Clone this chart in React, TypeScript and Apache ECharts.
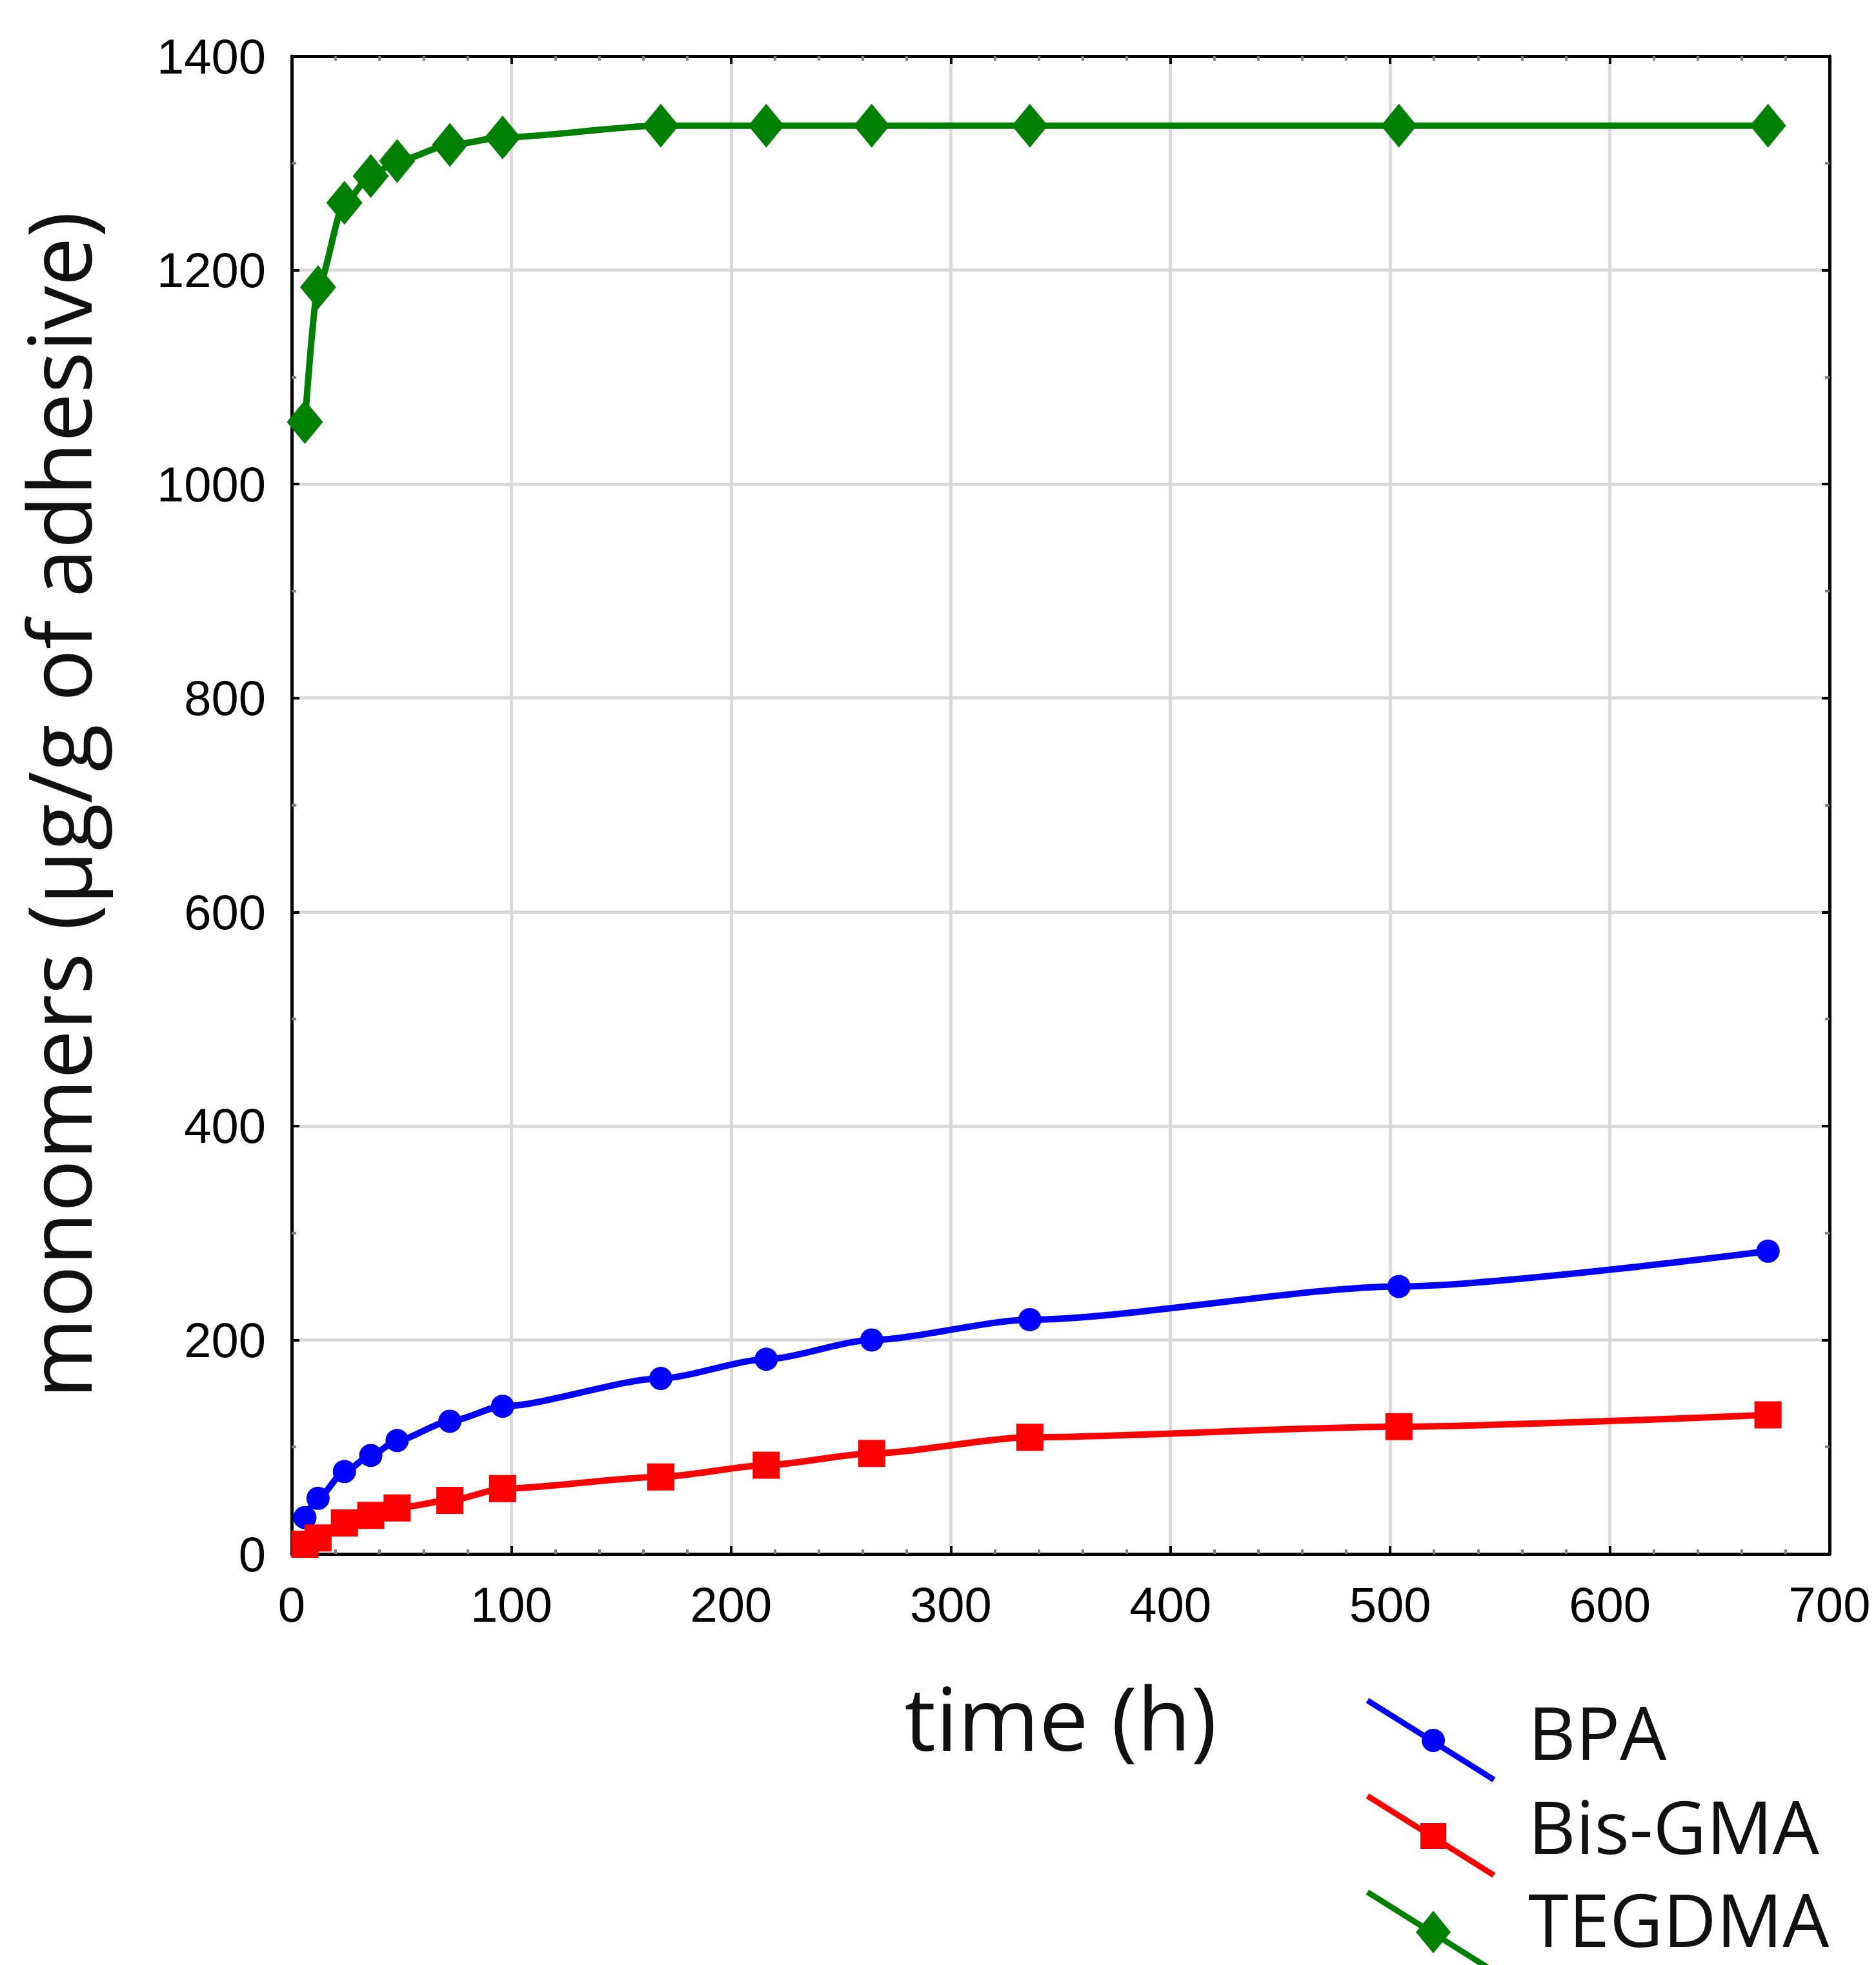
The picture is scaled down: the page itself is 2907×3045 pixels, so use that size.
import React, { useEffect, useRef } from "react";
import * as echarts from "echarts";

const times = [6, 12, 24, 36, 48, 72, 96, 168, 216, 264, 336, 504, 672];
const bpa = [34, 52, 77, 92, 106, 124, 138, 164, 182, 200, 219, 250, 283];
const bisGma = [9, 15, 29, 36, 43, 50, 61, 72, 83, 94, 109, 119, 130];
const tegdma = [1058, 1184, 1263, 1288, 1302, 1317, 1324, 1335, 1335, 1335, 1335, 1335, 1335];
const seriesNames = ["BPA", "Bis-GMA", "TEGDMA"];
const seriesColors = ["#0000ff", "#ff0000", "#008000"];
const xTitle = "time (h)";
const yTitle = "monomers (\u03bcg/g of adhesive)";

const W = 2907;
const H = 3045;

export default function App() {
  const ref = useRef<HTMLDivElement>(null);
  useEffect(() => {
    if (!ref.current) return;
    const chart = echarts.init(ref.current, null, { renderer: "svg", width: W, height: H });
    const labelFont = {
      fontFamily: "Liberation Sans",
      fontSize: 76,
      color: "#000",
      formatter: (v: number) => String(v),
    };
    const tickCommon = {
      show: true,
      inside: true,
      length: 12,
      lineStyle: { color: "#000", width: 4 },
    };
    const minorCommon = (n: number) => ({
      show: true,
      splitNumber: n,
      length: 7,
      lineStyle: { color: "#808080", width: 4 },
    });
    const axisLine = { show: true, onZero: false, lineStyle: { color: "#000", width: 5 } };
    const mk = (vals: number[]) => times.map((t, i) => [t, vals[i]]);
    const allVals = [bpa, bisGma, tegdma];
    const symbols = ["circle", "rect", "diamond"];
    const sizes: any[] = [36, 42, [56, 68]];

    // legend built with graphic elements
    const rowY = [2635, 2783, 2932];
    const textOffset = [47, 45, 40];
    const graphic: any[] = [];
    seriesNames.forEach((name, i) => {
      const y0 = rowY[i];
      const col = seriesColors[i];
      graphic.push({
        type: "line",
        shape: { x1: 2119, y1: y0, x2: 2315, y2: y0 + 123 },
        style: { stroke: col, lineWidth: 9 },
      });
      const cx = 2221;
      const cy = y0 + 62;
      if (i === 0) {
        graphic.push({ type: "circle", shape: { cx, cy, r: 18 }, style: { fill: col } });
      } else if (i === 1) {
        graphic.push({ type: "rect", shape: { x: cx - 20, y: cy - 20, width: 40, height: 40 }, style: { fill: col } });
      } else {
        graphic.push({
          type: "polygon",
          shape: { points: [[cx, cy - 33], [cx + 27, cy], [cx, cy + 33], [cx - 27, cy]] },
          style: { fill: col },
        });
      }
      graphic.push({
        type: "text",
        x: 2368,
        y: y0 + textOffset[i],
        style: {
          text: name,
          font: "114px 'Open Sans'",
          lineHeight: 100,
          fill: "#111",
          align: "left",
          verticalAlign: "middle",
        },
      });
    });

    chart.setOption({
      animation: false,
      backgroundColor: "#fff",
      grid: {
        left: 452,
        top: 87,
        right: 72,
        bottom: 637,
        containLabel: false,
        outerBoundsMode: "none",
      },
      xAxis: [
        {
          type: "value",
          min: 0,
          max: 700,
          interval: 100,
          position: "bottom",
          name: xTitle,
          nameLocation: "middle",
          nameGap: 184,
          nameTextStyle: { fontFamily: "Open Sans", fontSize: 136, color: "#111" },
          axisLine,
          axisTick: tickCommon,
          minorTick: minorCommon(5),
          axisLabel: { ...labelFont, margin: 40 },
          splitLine: { show: true, lineStyle: { color: "#d9d9d9", width: 5 } },
        },
        {
          type: "value",
          min: 0,
          max: 700,
          interval: 100,
          position: "top",
          axisLine,
          axisTick: tickCommon,
          minorTick: minorCommon(5),
          axisLabel: { show: false },
          splitLine: { show: false },
        },
      ],
      yAxis: [
        {
          type: "value",
          min: 0,
          max: 1400,
          interval: 200,
          position: "left",
          name: yTitle,
          nameLocation: "middle",
          nameGap: 302,
          nameTextStyle: { fontFamily: "Open Sans", fontSize: 135, lineHeight: 120, color: "#111" },
          axisLine,
          axisTick: tickCommon,
          minorTick: minorCommon(2),
          axisLabel: { ...labelFont, margin: 40 },
          splitLine: { show: true, lineStyle: { color: "#d9d9d9", width: 5 } },
        },
        {
          type: "value",
          min: 0,
          max: 1400,
          interval: 200,
          position: "right",
          axisLine,
          axisTick: tickCommon,
          minorTick: minorCommon(2),
          axisLabel: { show: false },
          splitLine: { show: false },
        },
      ],
      series: seriesNames.map((name, i) => ({
        name,
        type: "line",
        xAxisIndex: 0,
        yAxisIndex: 0,
        data: mk(allVals[i]),
        symbol: symbols[i],
        symbolSize: sizes[i],
        smooth: 0.25,
        smoothMonotone: "x",
        lineStyle: { color: seriesColors[i], width: 10 },
        itemStyle: { color: seriesColors[i] },
        z: 3 + i,
      })),
      graphic,
    });
    return () => chart.dispose();
  }, []);
  return (
    <div
      ref={ref}
      style={{ position: "absolute", left: 0, top: 0, width: W, height: H, background: "#fff" }}
    />
  );
}
